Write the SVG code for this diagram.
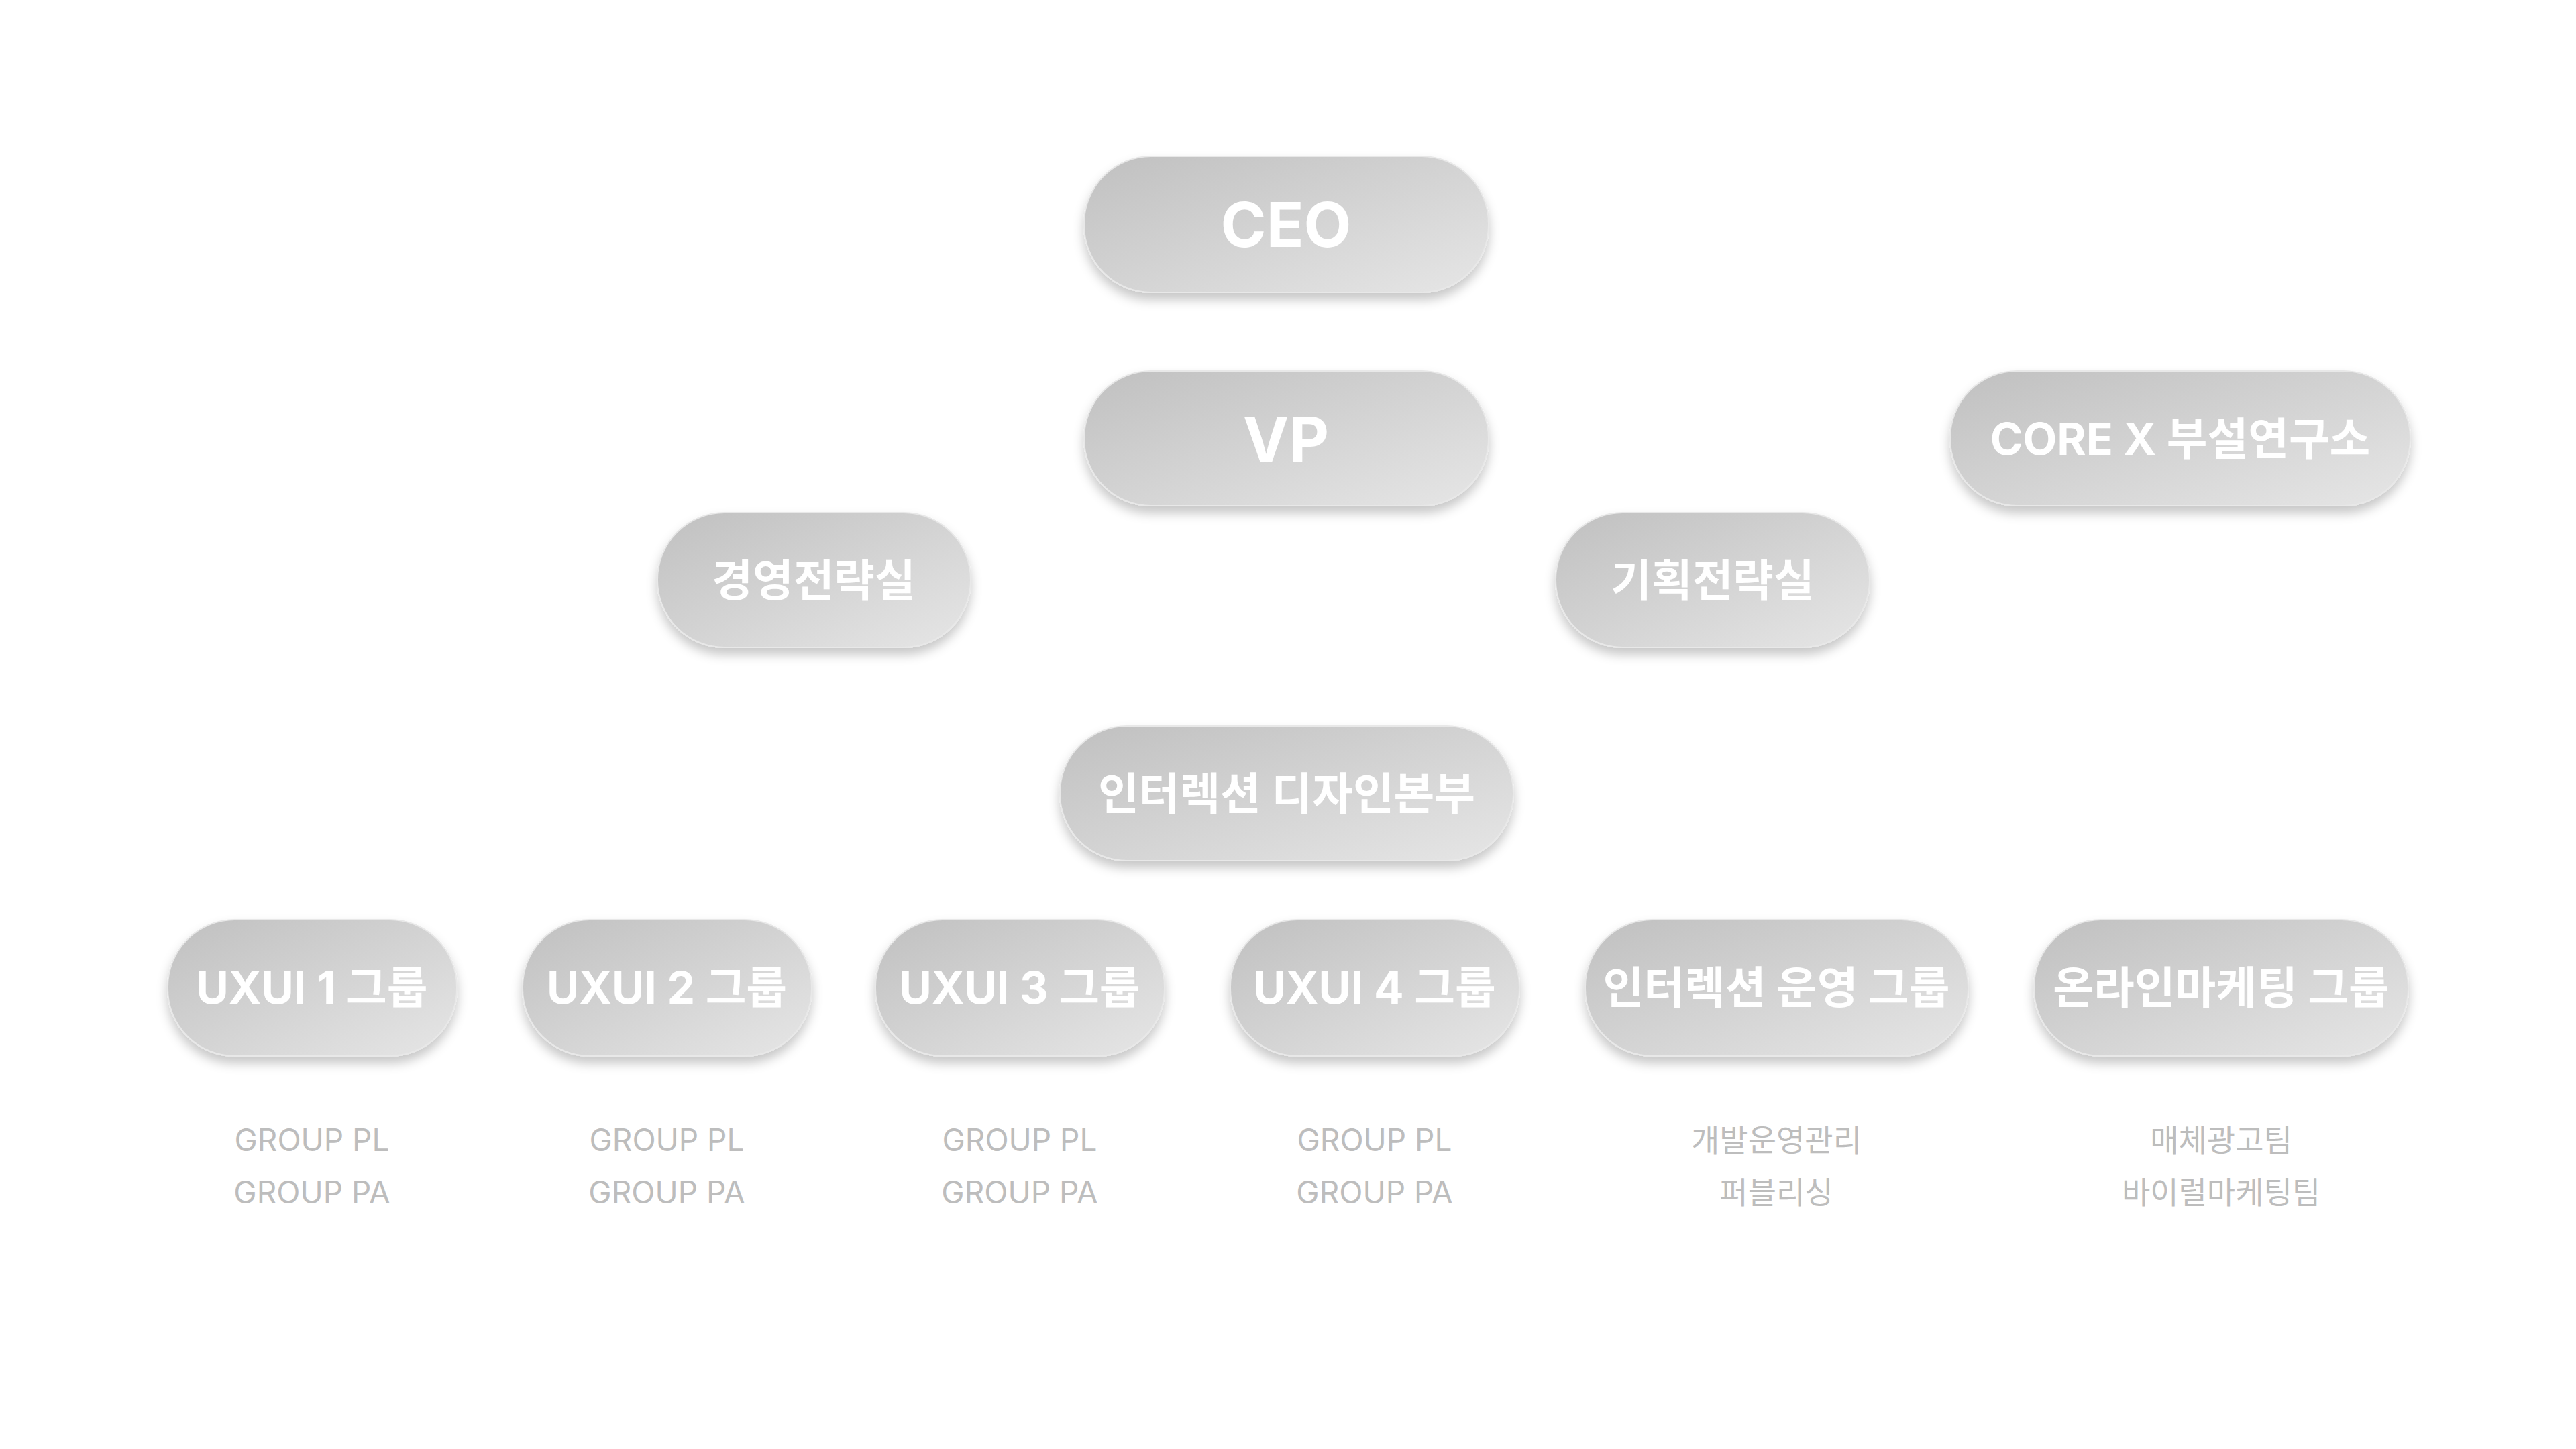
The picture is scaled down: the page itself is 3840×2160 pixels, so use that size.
<svg xmlns="http://www.w3.org/2000/svg" width="3840" height="2160" viewBox="0 0 3840 2160">
<defs>
<linearGradient id="g" x1="0" y1="0" x2="1" y2="1"><stop offset="0" stop-color="#c0c0c0"/><stop offset="1" stop-color="#e6e6e6"/></linearGradient>
<filter id="sh" x="-10%" y="-20%" width="120%" height="150%"><feDropShadow dx="0" dy="10" stdDeviation="8" flood-color="#000" flood-opacity="0.22"/></filter>
<style>
.n{fill:url(#g);stroke:#e8e8e8;stroke-width:2;filter:url(#sh)}
.t{font-family:Inter,"Noto Sans CJK KR",sans-serif;font-weight:700;fill:#fff;text-anchor:middle;dominant-baseline:central;font-size:66px}
.b{font-size:92px}
.s{font-family:Inter,"Noto Sans CJK KR",sans-serif;fill:#bdbdbd;text-anchor:middle;font-size:46px}
</style>
</defs>
<rect width="3840" height="2160" fill="#fff"/>
<g id="connectors"/>
<g id="ceo"><rect class="n" x="1616" y="233" width="603" height="203" rx="100"/><text class="t b" x="1917" y="334">CEO</text></g>
<g id="vp"><rect class="n" x="1616" y="553" width="603" height="201" rx="100"/><text class="t b" x="1917" y="654">VP</text></g>
<g id="corex"><rect class="n" x="2907" y="553" width="686" height="201" rx="100"/><text class="t" x="3250" y="654">CORE X 부설연구소</text></g>
<g id="mgmt"><rect class="n" x="980" y="764" width="467" height="201" rx="100"/><text class="t" x="1213" y="865">경영전략실</text></g>
<g id="plan"><rect class="n" x="2319" y="764" width="468" height="201" rx="100"/><text class="t" x="2553" y="865">기획전략실</text></g>
<g id="design"><rect class="n" x="1580" y="1082" width="676" height="201" rx="100"/><text class="t" x="1918" y="1183">인터렉션 디자인본부</text></g>
<g id="uxui1"><rect class="n" x="250" y="1371" width="431" height="203" rx="100"/><text class="t" x="465" y="1472">UXUI 1 그룹</text><text class="s" x="465" y="1716">GROUP PL</text><text class="s" x="465" y="1794">GROUP PA</text></g>
<g id="uxui2"><rect class="n" x="779" y="1371" width="431" height="203" rx="100"/><text class="t" x="994" y="1472">UXUI 2 그룹</text><text class="s" x="994" y="1716">GROUP PL</text><text class="s" x="994" y="1794">GROUP PA</text></g>
<g id="uxui3"><rect class="n" x="1305" y="1371" width="431" height="203" rx="100"/><text class="t" x="1520" y="1472">UXUI 3 그룹</text><text class="s" x="1520" y="1716">GROUP PL</text><text class="s" x="1520" y="1794">GROUP PA</text></g>
<g id="uxui4"><rect class="n" x="1834" y="1371" width="431" height="203" rx="100"/><text class="t" x="2049" y="1472">UXUI 4 그룹</text><text class="s" x="2049" y="1716">GROUP PL</text><text class="s" x="2049" y="1794">GROUP PA</text></g>
<g id="ops"><rect class="n" x="2363" y="1371" width="571" height="203" rx="100"/><text class="t" x="2648" y="1472">인터렉션 운영 그룹</text><text class="s" x="2648" y="1716">개발운영관리</text><text class="s" x="2648" y="1794">퍼블리싱</text></g>
<g id="mkt"><rect class="n" x="3032" y="1371" width="558" height="203" rx="100"/><text class="t" x="3311" y="1472">온라인마케팅 그룹</text><text class="s" x="3311" y="1716">매체광고팀</text><text class="s" x="3311" y="1794">바이럴마케팅팀</text></g>
</svg>
